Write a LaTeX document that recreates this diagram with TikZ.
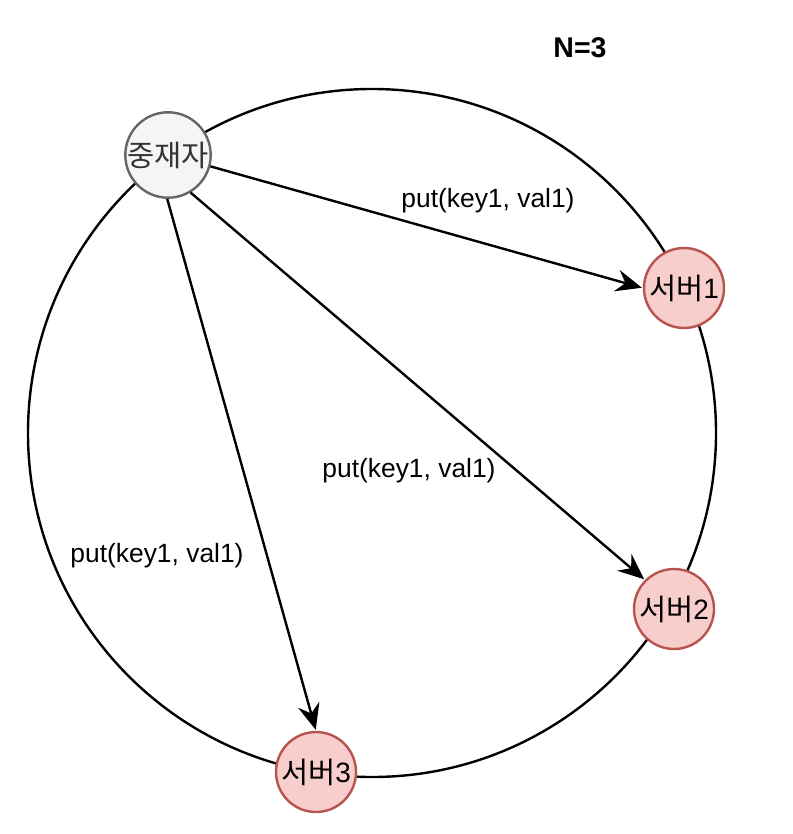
\documentclass[tikz,border=0pt]{standalone}
\usepackage{fontspec}
\setmainfont{Liberation Sans}
\newfontfamily\kr{Noto Sans CJK KR}
\usetikzlibrary{arrows.meta}
\definecolor{mfill}{HTML}{F5F5F5}
\definecolor{mdraw}{HTML}{666666}
\definecolor{mtext}{HTML}{333333}
\definecolor{sfill}{HTML}{F8CECC}
\definecolor{sdraw}{HTML}{B85450}
\newcommand{\krtxt}[1]{{\fontsize{29.5}{32}\selectfont\kr #1}}
\tikzset{
  ringline/.style={line width=2.4pt, draw=black},
  nodebase/.style={circle, minimum size=80pt, inner sep=0pt, line width=2.4pt, font=\fontsize{28}{30}\selectfont},
  coord/.style={nodebase, fill=mfill, draw=mdraw, text=mtext},
  srv/.style={nodebase, fill=sfill, draw=sdraw, text=black},
  arr/.style={line width=2.4pt, -{Stealth[length=26pt, width=22pt, inset=9pt]}, shorten >=1pt},
  lbl/.style={font=\fontsize{26.4}{30}\selectfont, inner sep=0pt},
}
\begin{document}
\begin{tikzpicture}[x=1pt,y=-1pt]
\useasboundingbox (0,0) rectangle (792,834);
\draw[ringline] (372,433) circle[radius=344];
\node[coord] (m) at (168,155) {\krtxt{중재자}};
\node[srv] (s1) at (684,288) {\krtxt{서버}\raisebox{1pt}{1}};
\node[srv] (s2) at (674,609) {\krtxt{서버}\raisebox{1pt}{2}};
\node[srv] (s3) at (316,772) {\krtxt{서버}\raisebox{1pt}{3}};
\draw[arr] (m.-15) -- (s1.west);
\draw[arr] (m.-59) -- (s2.135);
\draw[arr] (m.-91) -- (s3.north);
\node[lbl] (l1) at (488,201) {put(key1, val1)};
\node[lbl] (l2) at (409,471) {put(key1, val1)};
\node[lbl] (l3) at (157,556) {put(key1, val1)};
\node[lbl, font=\fontsize{28.5}{30}\selectfont\bfseries] (n) at (580,48) {N=3};
\end{tikzpicture}
\end{document}
